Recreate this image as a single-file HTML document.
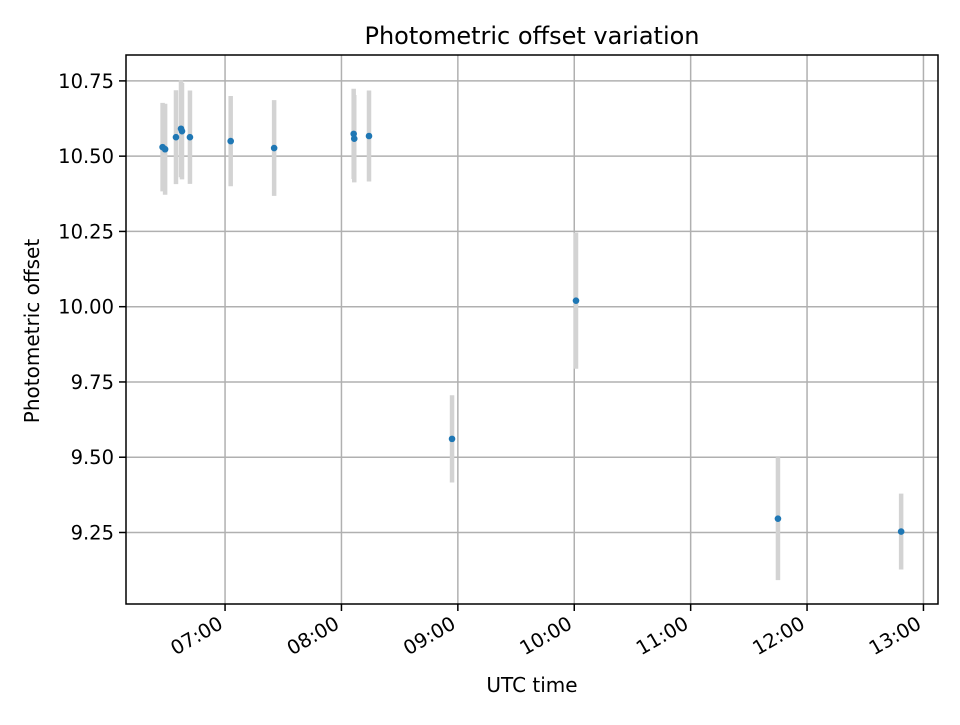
<!DOCTYPE html>
<html><head><meta charset="utf-8"><style>
body{margin:0;background:#fff;}
svg{font-family:"DejaVu Sans","Liberation Sans",sans-serif;}
</style></head><body>
<svg id="chart" width="960" height="720" xmlns="http://www.w3.org/2000/svg">
<rect width="960" height="720" fill="#fff"/>
<g id="grid"></g>
<g id="bars"></g>
<g id="pts"></g>
<rect x="126" y="55" width="812" height="549" fill="none" stroke="#000" stroke-width="1.5"/>
<g id="ticks"></g>
<text x="532" y="44" text-anchor="middle" font-size="24">Photometric offset variation</text>
<text x="532" y="692" text-anchor="middle" font-size="20">UTC time</text>
<text transform="translate(39,331) rotate(-90)" text-anchor="middle" font-size="20">Photometric offset</text>
</svg>
<script>
const times = ["06:27.8","06:29.1","06:34.7","06:37.3","06:37.8","06:41.9","07:02.9","07:25.3","08:06.3","08:06.6","08:14.2","08:57.0","10:00.9","11:45.0","12:48.5"];
const offsets = [10.530,10.523,10.563,10.591,10.583,10.563,10.550,10.527,10.574,10.558,10.567,9.561,10.020,9.296,9.253];
const errors = [0.147,0.151,0.156,0.161,0.160,0.155,0.150,0.159,0.150,0.145,0.151,0.145,0.226,0.204,0.126];
const xTicks = ["07:00","08:00","09:00","10:00","11:00","12:00","13:00"];
const yTicks = [9.25,9.50,9.75,10.00,10.25,10.50,10.75];
const L=126,R=938,T=55,B=604;
const xMin=6.149,xMax=13.125,yMin=9.0125,yMax=10.836;
const toH=s=>{const[h,m]=s.split(":").map(Number);return h+m/60;};
const X=h=>L+(h-xMin)/(xMax-xMin)*(R-L);
const Y=v=>B-(v-yMin)/(yMax-yMin)*(B-T);
const NS="http://www.w3.org/2000/svg";
function mk(tag,attrs,parent){const e=document.createElementNS(NS,tag);for(const k in attrs)e.setAttribute(k,attrs[k]);parent.appendChild(e);return e;}
const grid=document.getElementById('grid'),ticks=document.getElementById('ticks'),bars=document.getElementById('bars'),pts=document.getElementById('pts');
xTicks.forEach(t=>{const x=X(toH(t));
 let g=mk('line',{x1:x,x2:x,y1:T,y2:B,stroke:'#b0b0b0','stroke-width':1.5},grid);
 
 let k=mk('line',{x1:x,x2:x,y1:B,y2:B+7,stroke:'#000','stroke-width':1.5},ticks);
 
 let tx=mk('text',{x:0,y:0,'text-anchor':'end','dominant-baseline':'hanging','font-size':19.5,transform:`translate(${x-8} ${B+11}) rotate(-30)`},ticks);
 tx.textContent=t;});
yTicks.forEach(v=>{const y=Y(v);
 let g=mk('line',{x1:L,x2:R,y1:y,y2:y,stroke:'#b0b0b0','stroke-width':1.5},grid);
 
 let k=mk('line',{x1:L-7,x2:L,y1:y,y2:y,stroke:'#000','stroke-width':1.5},ticks);
 
 let tx=mk('text',{x:L-12,y:y+7,'text-anchor':'end','font-size':19.5},ticks);
 tx.textContent=v.toFixed(2);});
times.forEach((t,i)=>{const x=X(toH(t));
 let b=mk('line',{x1:x,x2:x,y1:Y(offsets[i]+errors[i]),y2:Y(offsets[i]-errors[i]),stroke:'#d3d3d3','stroke-width':4.5},bars);
 
 let c=mk('circle',{cx:x,cy:Y(offsets[i]),r:3.3,fill:'#1f77b4'},pts);
 });
</script>
</body></html>
